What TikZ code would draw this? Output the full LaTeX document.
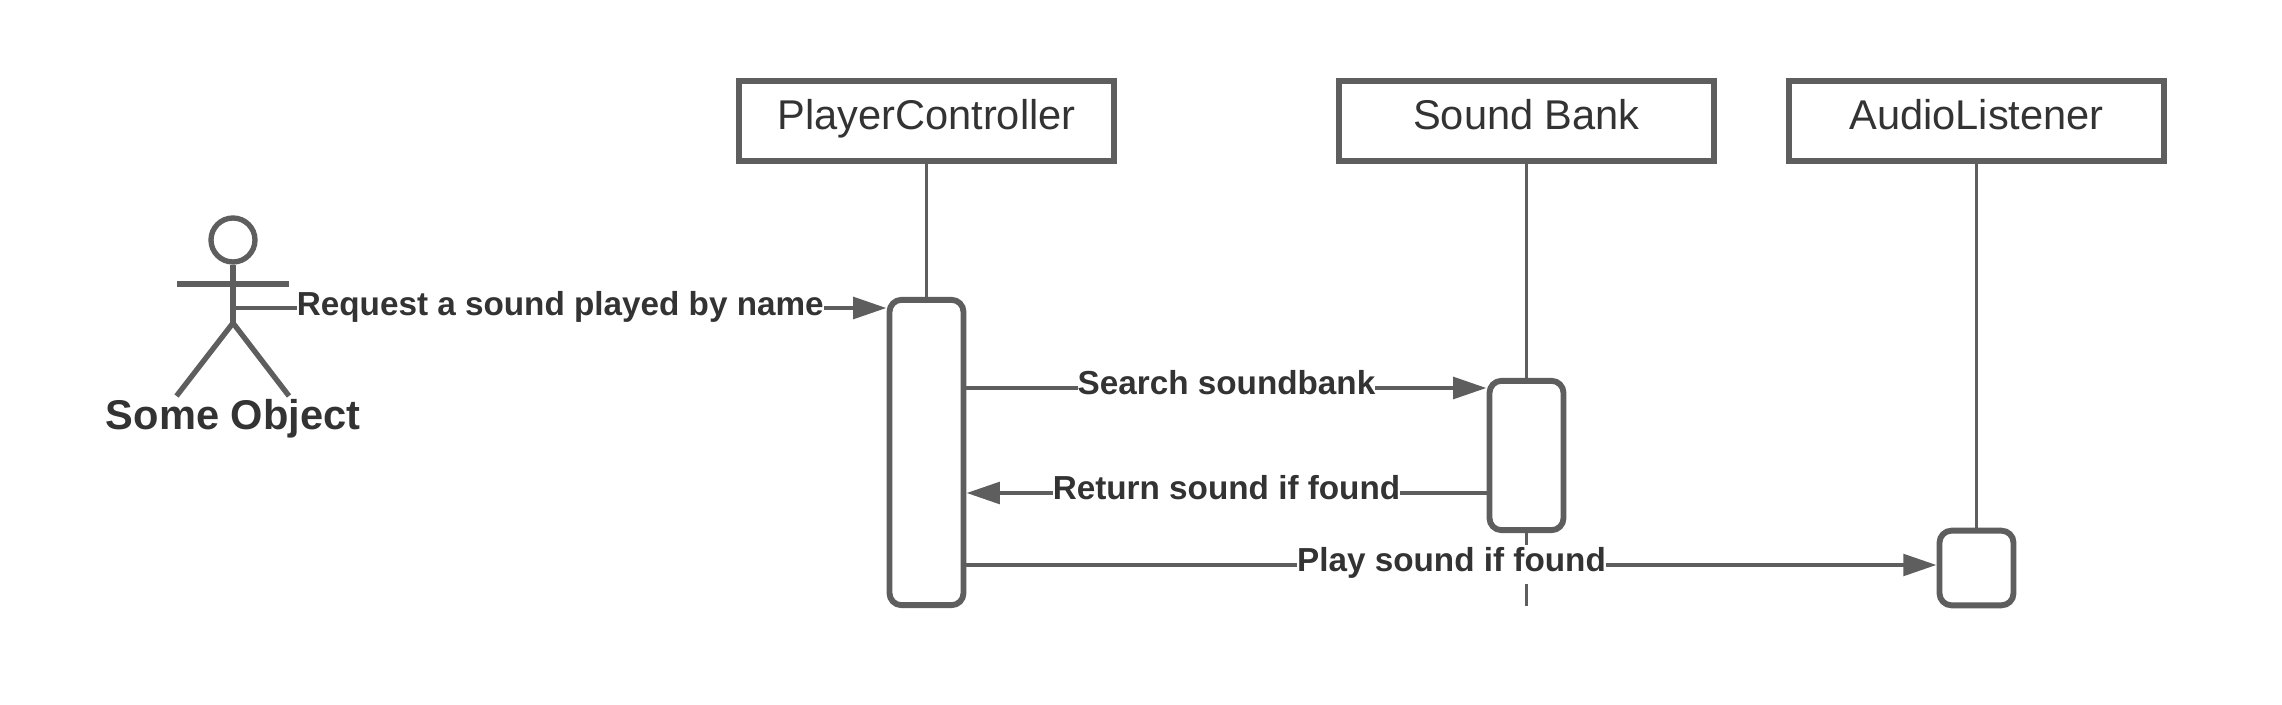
\documentclass[tikz,border=0pt]{standalone}
\usepackage{fontspec}
\setmainfont{Liberation Sans}
\usetikzlibrary{arrows.meta}
\definecolor{linegray}{HTML}{5E5E5E}
\definecolor{textgray}{HTML}{333333}
\tikzset{
    headbox/.style={draw=linegray,line width=4.3pt,fill=white,minimum width=281pt,minimum height=60pt,inner sep=0pt,
        text=textgray,text height=24.75pt,text depth=12.3pt,font=\fontsize{31.2}{37}\selectfont},
    actbox/.style={draw=linegray,line width=4.4pt,fill=white,rounded corners=9pt,minimum width=55.5pt,inner sep=0pt},
    lifeline/.style={linegray,line width=2pt},
    stick/.style={linegray,line width=4pt},
    msg/.style={linegray,line width=3.4pt,-{Triangle[length=25pt,width=16pt]}},
    msglabel/.style={fill=white,inner sep=0pt,text=textgray,text height=19.5pt,text depth=9.75pt,
        font=\bfseries\fontsize{24.95}{30}\selectfont},
}
\begin{document}
\begin{tikzpicture}[x=0.75pt,y=-0.75pt]
        \useasboundingbox (0,0) rectangle (2282,705);

        \coordinate (hip) at (233,323);
        \coordinate (armL) at (176.5,284);
        \coordinate (armR) at (289,284);
        \coordinate (legL) at (176.5,396);
        \coordinate (legR) at (289,396);
        \coordinate (hand) at (234,308);
        \coordinate (searchY) at (926,388);
        \coordinate (returnY) at (926,493);
        \coordinate (playY) at (926,565);
        \coordinate (bankEnd) at (1527,606);

        \node[headbox] (player) at (926.5,121) {PlayerController};
        \node[headbox] (bank) at (1526.5,121) {Sound Bank};
        \node[headbox] (listener) at (1976.5,121) {AudioListener};

        \node[actbox,minimum height=229pt] (playerAct) at (926.5,452.5) {};
        \node[actbox,minimum height=112pt] (bankAct) at (1526.5,455.5) {};
        \node[actbox,minimum height=56pt] (listenerAct) at (1976.5,568) {};

        \draw[lifeline] (player.south) -- (playerAct.north);
        \draw[lifeline] (bank.south) -- (bankAct.north);
        \draw[lifeline] (bankAct.south) -- (bankAct.south |- bankEnd);
        \draw[lifeline] (listener.south) -- (listenerAct.north);

        % actor
        \node[circle,draw=linegray,line width=4pt,inner sep=0pt,minimum size=33pt] (head) at (233,240) {};
        \draw[stick] (head.south) -- (hip);
        \draw[stick] (armL) -- (armR);
        \draw[stick] (hip) -- (legL);
        \draw[stick] (hip) -- (legR);
        \node[text=textgray,inner sep=0pt,text height=24.75pt,text depth=12.3pt,font=\bfseries\fontsize{31.2}{37}\selectfont] (actorName) at (233,421.5) {Some Object};

        \draw[msg] (hand) -- node[msglabel,yshift=-1pt] (requestLabel) {Request a sound played by name} (hand -| playerAct.west);
        \draw[msg] (searchY -| playerAct.east) -- node[msglabel] (searchLabel) {Search soundbank} (searchY -| bankAct.west);
        \draw[msg] (returnY -| bankAct.west) -- node[msglabel] (returnLabel) {Return sound if found} (returnY -| playerAct.east);
        \draw[msg] (playY -| playerAct.east) -- node[msglabel] (playLabel) {Play sound if found} (playY -| listenerAct.west);
    \end{tikzpicture}
\end{document}
